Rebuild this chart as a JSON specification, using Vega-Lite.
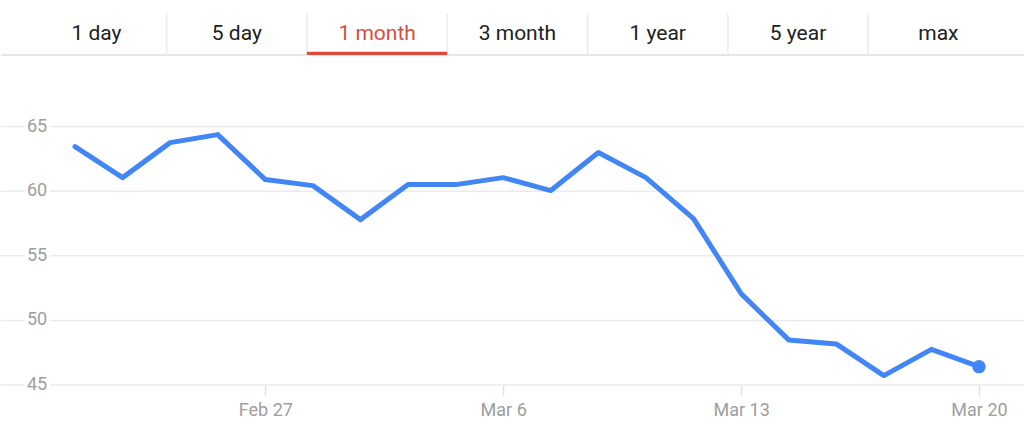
{
  "$schema": "https://vega.github.io/schema/vega-lite/v6.json",
  "background": "#ffffff",
  "padding": 0,
  "spacing": 4,
  "config": {
    "view": {"stroke": null},
    "font": "Roboto"
  },
  "datasets": {
    "tabs": [
      {"tab": "1 day", "selected": false},
      {"tab": "5 day", "selected": false},
      {"tab": "1 month", "selected": true},
      {"tab": "3 month", "selected": false},
      {"tab": "1 year", "selected": false},
      {"tab": "5 year", "selected": false},
      {"tab": "max", "selected": false}
    ],
    "gridlines": [
      {"level": 45}, {"level": 50}, {"level": 55}, {"level": 60}, {"level": 65}
    ],
    "prices": [
      {"date": "Feb 21", "price": 63.45},
      {"date": "Feb 22", "price": 61.05},
      {"date": "Feb 23", "price": 63.76},
      {"date": "Feb 24", "price": 64.38},
      {"date": "Feb 27", "price": 60.9},
      {"date": "Feb 28", "price": 60.43},
      {"date": "Mar 1", "price": 57.8},
      {"date": "Mar 2", "price": 60.51},
      {"date": "Mar 3", "price": 60.51},
      {"date": "Mar 6", "price": 61.05},
      {"date": "Mar 7", "price": 60.05},
      {"date": "Mar 8", "price": 62.99},
      {"date": "Mar 9", "price": 61.05},
      {"date": "Mar 10", "price": 57.88},
      {"date": "Mar 13", "price": 52.07},
      {"date": "Mar 14", "price": 48.49},
      {"date": "Mar 15", "price": 48.18},
      {"date": "Mar 16", "price": 45.73},
      {"date": "Mar 17", "price": 47.76},
      {"date": "Mar 20", "price": 46.42}
    ]
  },
  "vconcat": [
    {
      "width": 1024,
      "height": 58,
      "data": {"name": "tabs"},
      "encoding": {
        "x": {
          "field": "tab",
          "type": "nominal",
          "axis": null,
          "scale": {
            "type": "band",
            "domain": ["1 day", "5 day", "1 month", "3 month", "1 year", "5 year", "max"],
            "paddingInner": 0,
            "paddingOuter": 0.149,
            "align": 0.606
          }
        }
      },
      "layer": [
        {
          "mark": {"type": "rule", "color": "#e6e6e6", "strokeWidth": 2},
          "encoding": {
            "x": null,
            "y": {"datum": 57, "type": "quantitative", "axis": null, "scale": {"domain": [0, 58], "reverse": true}}
          }
        },
        {
          "transform": [{"filter": "datum.tab != '1 day'"}],
          "mark": {"type": "rule", "color": "#ebebeb", "strokeWidth": 1.5},
          "encoding": {
            "x": {"field": "tab", "type": "nominal", "bandPosition": 0},
            "y": {"datum": 14, "type": "quantitative"},
            "y2": {"datum": 57}
          }
        },
        {
          "transform": [{"filter": "datum.selected"}],
          "mark": {"type": "bar", "color": "#dd4b39"},
          "encoding": {
            "y": {"datum": 53.5, "type": "quantitative"},
            "y2": {"datum": 57}
          }
        },
        {
          "mark": {"type": "text", "fontSize": 21, "baseline": "alphabetic", "align": "center"},
          "encoding": {
            "text": {"field": "tab"},
            "y": {"datum": 41.5, "type": "quantitative"},
            "color": {
              "condition": {"test": "datum.selected", "value": "#dd4b39"},
              "value": "#212121"
            }
          }
        }
      ]
    },
    {
      "width": 1024,
      "height": 323,
      "encoding": {
        "x": {
          "field": "date",
          "type": "ordinal",
          "sort": null,
          "scale": {"type": "point", "padding": 0, "range": [74, 978]},
          "axis": {
            "title": null,
            "values": ["Feb 27", "Mar 6", "Mar 13", "Mar 20"],
            "labelAngle": 0,
            "grid": false,
            "domain": false,
            "ticks": true,
            "tickSize": 10,
            "tickColor": "#e0e0e0",
            "tickWidth": 1.5,
            "labelPadding": 6,
            "labelFontSize": 18,
            "labelColor": "#9e9e9e"
          }
        }
      },
      "layer": [
        {
          "data": {"name": "gridlines"},
          "mark": {"type": "rule", "color": "#ebebeb", "strokeWidth": 1.5},
          "encoding": {
            "x": null,
            "y": {
              "field": "level",
              "type": "quantitative",
              "scale": {"domain": [45, 70], "nice": false, "zero": false},
              "axis": null
            }
          }
        },
        {
          "data": {"name": "prices"},
          "mark": {"type": "line", "color": "#4285f4", "strokeWidth": 5, "strokeJoin": "round", "strokeCap": "round"},
          "encoding": {
            "y": {"field": "price", "type": "quantitative"}
          }
        },
        {
          "data": {"name": "prices"},
          "transform": [{"filter": "datum.date == 'Mar 20'"}],
          "mark": {"type": "point", "filled": true, "opacity": 1, "color": "#4285f4", "size": 180},
          "encoding": {
            "y": {"field": "price", "type": "quantitative"}
          }
        },
        {
          "data": {"name": "gridlines"},
          "mark": {"type": "text", "align": "left", "baseline": "middle", "dx": -48, "fontSize": 18, "color": "#ffffff", "stroke": "#ffffff", "strokeWidth": 7},
          "encoding": {
            "x": {"datum": "Feb 21"},
            "y": {"field": "level", "type": "quantitative"},
            "text": {"field": "level"}
          }
        },
        {
          "data": {"name": "gridlines"},
          "mark": {"type": "text", "align": "left", "baseline": "middle", "dx": -48, "fontSize": 18, "color": "#9e9e9e"},
          "encoding": {
            "x": {"datum": "Feb 21"},
            "y": {"field": "level", "type": "quantitative"},
            "text": {"field": "level"}
          }
        }
      ]
    }
  ]
}
